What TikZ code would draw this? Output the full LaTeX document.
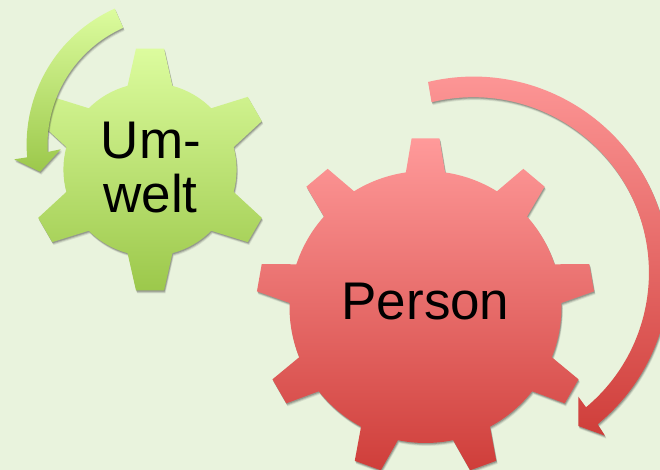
\documentclass[tikz,border=0pt]{standalone}
\usepackage{fontspec}
\setmainfont{Liberation Sans}
\usepackage{xcolor}
\usepackage{tikz}
\usetikzlibrary{shadows}
\definecolor{Backdrop}{HTML}{E9F3DD}
\definecolor{GreenTop}{HTML}{DCFC9E}
\definecolor{GreenLow}{HTML}{9CC84B}
\definecolor{RedTop}{HTML}{FF9A9A}
\definecolor{RedLow}{HTML}{CF3E3A}
\tikzset{
  softshade/.style  = {general shadow={shadow xshift=1.4pt, shadow yshift=-3pt, fill=black!80, opacity=.10},
                       general shadow={shadow xshift=1pt, shadow yshift=-2.1pt, fill=black!80, opacity=.18},
                       general shadow={shadow xshift=.6pt, shadow yshift=-1.2pt, fill=black!80, opacity=.25}},
  greenpart/.style  = {softshade, top color=GreenTop, bottom color=GreenLow},
  redpart/.style    = {softshade, top color=RedTop, bottom color=RedLow},
  gearlabel/.style  = {font=\fontsize{53}{53}\selectfont, text=black, anchor=base, inner sep=0pt},
}
% #1 teeth angles, #2 step, #3 rim radius, #4 rim half angle, #5 tip radius, #6 tip half angle
\newcommand{\gearoutline}[6]{
  ({90+#4}:#3) \foreach \a in {#1} {
    -- ({\a+#4}:#3) -- ({\a+#6}:#5) -- ({\a-#6}:#5) -- ({\a-#4}:#3)
    arc[start angle={\a-#4}, end angle={\a-#2+#4}, radius=#3]
  } -- cycle
}

\begin{document}
\begin{tikzpicture}[x=1pt, y=1pt]

  \path[use as bounding box, fill=Backdrop] (0,0) rectangle (660,470);
  \clip (0,0) rectangle (660,470);

  \coordinate (greenhub) at (175.6,325.4);
  \coordinate (redhub) at (473.5,197.4);

  % Umwelt
  \begin{scope}[shift={(150,300.5)}]
    \path[greenpart] \gearoutline{90,30,-30,-90,-150,-210}{60}{86.6}{15}{121.8}{6.6};
  \end{scope}
  \path[greenpart]
    ([shift={(114.1:149)}]greenhub) arc[start angle=114.1, end angle=184.9, radius=149]
    -- (14.3,310.7) -- (40,298.3) -- (60.7,320.7) -- (47.7,318)
    arc[start angle=183.3, end angle=114.1, radius=128] -- cycle;
  \node[gearlabel] (umlabel) at (151,311.5) {Um-};
  \node[gearlabel] (weltlabel) at (150.5,257.5) {welt};

  % Person
  \begin{scope}[shift={(425.5,163)}]
    \path[redpart] \gearoutline{90,50,10,-30,-70,-110,-150,-190,-230}{40}{136}{8.3}{169.3}{4.7};
  \end{scope}
  \path[redpart]
    ([shift={(103.4:196)}]redhub) arc[start angle=103.4, end angle=-50.7, radius=196]
    -- (605,34.3) -- (578.3,44) -- (578.3,73.3) -- (586,62.7)
    arc[start angle=-50.1, end angle=103.8, radius=175.5] -- cycle;
  \node[gearlabel] (personlabel) at (425.5,150) {Person};

\end{tikzpicture}
\end{document}
